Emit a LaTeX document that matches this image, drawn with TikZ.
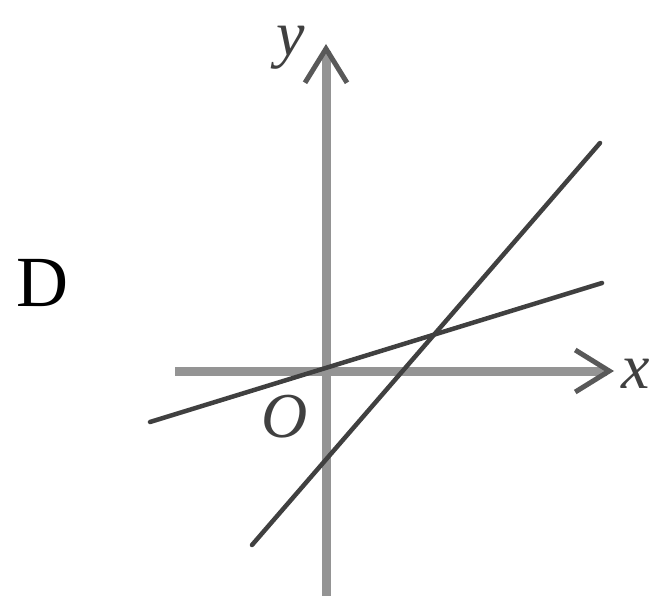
\documentclass[tikz,border=0pt]{standalone}
\usepackage{fontspec}
\setmainfont{Liberation Serif}
\usetikzlibrary{arrows.meta}
\begin{document}
\begin{tikzpicture}[x=1pt,y=-1pt,
  axis/.style={draw=black!42,line width=9pt,
    -{Straight Barb[length=34pt,width=42pt,line width=5pt,color=black!65]}},
  graphline/.style={draw=black!75,line width=4.5pt,line cap=round},
  lbl/.style={font=\itshape\fontsize{64}{64}\selectfont,text=black!75,inner sep=0pt}]
\useasboundingbox (0,0) rectangle (659,596);
\coordinate (xs) at (175,371);
\coordinate (xe) at (614,371);
\coordinate (ys) at (326,596);
\coordinate (ye) at (326,44);
\draw[axis] (xs) -- (xe);
\draw[axis] (ys) -- (ye);
\coordinate (a1) at (150,422);
\coordinate (a2) at (602,283);
\coordinate (b1) at (252,545);
\coordinate (b2) at (600,143);
\draw[graphline] (a1) -- (a2);
\draw[graphline] (b1) -- (b2);
\node[lbl] (ylab) at (291,48) {y};
\node[lbl] (xlab) at (636,374) {x};
\node[lbl] (olab) at (285,417) {O};
\node[inner sep=0pt,font=\fontsize{72}{72}\selectfont] (dlab) at (42,283) {D};
\end{tikzpicture}
\end{document}
